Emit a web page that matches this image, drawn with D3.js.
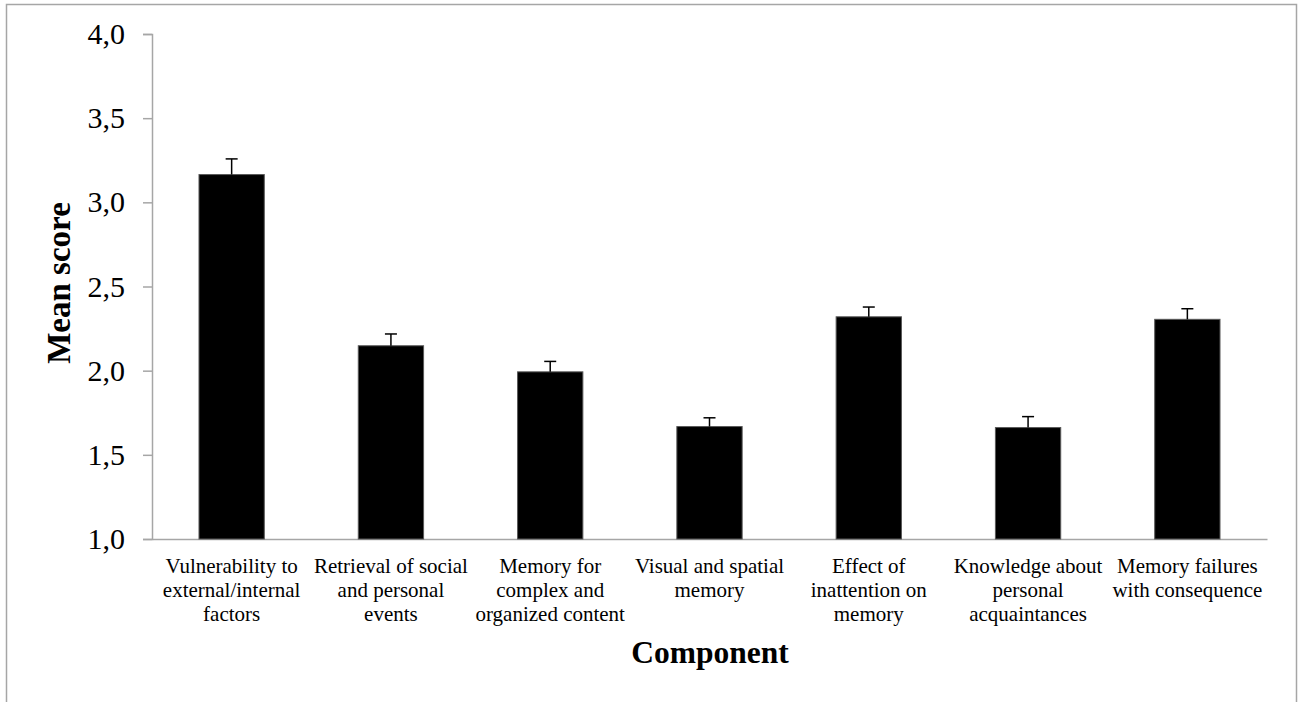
<!DOCTYPE html>
<html><head><meta charset="utf-8">
<script src="https://cdn.jsdelivr.net/npm/d3@7"></script>
<style>body{margin:0;background:#fff}svg{display:block}</style>
</head><body><svg id="c" width="1301" height="702"></svg>
<script>
const categories = [
  ["Vulnerability to","external/internal","factors"],
  ["Retrieval of social","and personal","events"],
  ["Memory for","complex and","organized content"],
  ["Visual and spatial","memory"],
  ["Effect of","inattention on","memory"],
  ["Knowledge about","personal","acquaintances"],
  ["Memory failures","with consequence"]
];
const means = [3.165, 2.148, 1.993, 1.668, 2.320, 1.662, 2.305];
const errTops = [3.258, 2.218, 2.055, 1.720, 2.378, 1.727, 2.368];
const yTicks = [1.0, 1.5, 2.0, 2.5, 3.0, 3.5, 4.0];

const svg = d3.select("#c");
const font = "'Liberation Serif','Times New Roman',serif";
// outer frame
svg.append("path").attr("d","M6.5,702 V4.5 H1296.5 V702").attr("fill","none").attr("stroke","#a6a6a6").attr("stroke-width",1.5);

const x = d3.scaleBand().domain(d3.range(categories.length)).range([152,1267]).paddingInner(0.59).paddingOuter(0.295);
const y = d3.scaleLinear().domain([1,4]).range([539,34]);

const gy = svg.append("g").attr("transform","translate(152,0)")
  .call(d3.axisLeft(y).tickValues(yTicks).tickSize(9).tickPadding(18).tickFormat(d=>d3.format(".1f")(d).replace(".",",")));
gy.select(".domain").attr("stroke","#a6a6a6").attr("stroke-width",1.5);
gy.selectAll(".tick line").attr("stroke","#a6a6a6").attr("stroke-width",1.5);
gy.selectAll("text").attr("font-family",font).attr("font-size",30).attr("fill","#000");

const gx = svg.append("g").attr("transform","translate(0,539)")
  .call(d3.axisBottom(x).tickSize(0).tickFormat(""));
gx.select(".domain").attr("stroke","#a6a6a6").attr("stroke-width",1.5);

// bars
svg.append("g").selectAll("rect").data(means).join("rect")
  .attr("x",(d,i)=>x(i)).attr("width",x.bandwidth())
  .attr("y",d=>y(d)).attr("height",d=>y(1)-y(d))
  .attr("fill","#000").attr("stroke","#595959").attr("stroke-width",1);

// error bars
const eg = svg.append("g").attr("stroke","#000").attr("stroke-width",1.5);
eg.selectAll("line.v").data(means).join("line").attr("class","v")
  .attr("x1",(d,i)=>x(i)+x.bandwidth()/2).attr("x2",(d,i)=>x(i)+x.bandwidth()/2)
  .attr("y1",d=>y(d)).attr("y2",(d,i)=>y(errTops[i]));
eg.selectAll("line.h").data(errTops).join("line").attr("class","h")
  .attr("x1",(d,i)=>x(i)+x.bandwidth()/2-6).attr("x2",(d,i)=>x(i)+x.bandwidth()/2+6)
  .attr("y1",d=>y(d)).attr("y2",d=>y(d));

// category labels
const lab = svg.append("g").attr("font-family",font).attr("font-size",21).attr("text-anchor","middle").attr("fill","#000");
categories.forEach((lines,i)=>{
  const t = lab.append("text").attr("x",x(i)+x.bandwidth()/2).attr("y",573);
  lines.forEach((l,j)=>t.append("tspan").attr("x",x(i)+x.bandwidth()/2).attr("dy",j?24:0).text(l));
});

svg.append("text").attr("x",710).attr("y",663).attr("text-anchor","middle")
  .attr("font-family",font).attr("font-weight","bold").attr("font-size",31.5).text("Component");
svg.append("text").attr("transform","translate(70,283) rotate(-90)").attr("text-anchor","middle")
  .attr("font-family",font).attr("font-weight","bold").attr("font-size",33).text("Mean score");
</script></body></html>
